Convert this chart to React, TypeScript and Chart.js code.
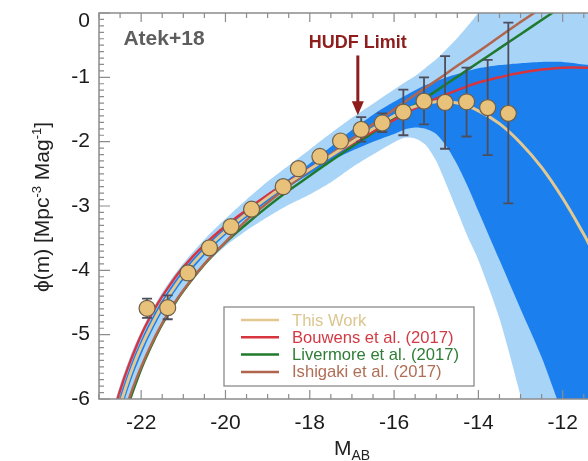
import React, { useEffect, useRef } from "react";
import { Chart, registerables } from "chart.js";
Chart.register(...registerables);

const FONT = "'Liberation Sans', Arial, Helvetica, sans-serif";

// ---- axes ----
const xTicks = [-22, -20, -18, -16, -14, -12];
const yTicks = [0, -1, -2, -3, -4, -5, -6];

// ---- data points (This Work) ----
const ptX = [-21.86, -21.37, -20.89, -20.38, -19.87, -19.38, -18.63, -18.27, -17.76, -17.27, -16.78, -16.28, -15.78, -15.29, -14.79, -14.28, -13.78, -13.29];
const ptY = [-4.59, -4.58, -4.04, -3.65, -3.32, -3.05, -2.70, -2.42, -2.23, -1.99, -1.81, -1.71, -1.54, -1.37, -1.39, -1.38, -1.47, -1.56];
const errHi = [-4.44, -4.39, -3.94, -3.58, -3.26, -2.99, -2.64, -2.36, -2.17, -1.92, -1.62, -1.56, -1.19, -1.00, -0.67, -0.85, -0.73, -0.15];
const errLo = [-4.74, -4.76, -4.14, -3.72, -3.38, -3.11, -2.76, -2.48, -2.29, -2.06, -2.00, -1.85, -1.90, -1.73, -2.11, -1.92, -2.21, -2.96];

// ---- model curves ----
const tanX = [-22.8, -22.6, -22.4, -22.2, -22.0, -21.75, -21.5, -21.25, -21.0, -20.5, -20.0, -19.5, -19.0, -18.5, -18.0, -17.5, -17.0, -16.5, -16.0, -15.5, -15.0, -14.5, -14.0, -13.5, -13.0, -12.5, -12.0, -11.5, -11.3];
const tanY = [-6.82, -6.32, -5.89, -5.51, -5.19, -4.85, -4.55, -4.30, -4.07, -3.70, -3.39, -3.12, -2.87, -2.64, -2.43, -2.22, -2.01, -1.80, -1.60, -1.45, -1.38, -1.40, -1.52, -1.72, -2.02, -2.40, -2.88, -3.44, -3.69];

const redX = [-22.7, -22.5, -22.3, -22.1, -21.9, -21.6, -21.3, -21.0, -20.5, -20.0, -19.5, -19.0, -18.5, -18.0, -17.5, -17.0, -16.5, -16.0, -15.5, -15.0, -14.5, -14.0, -13.5, -13.0, -12.5, -12.0, -11.5, -11.3];
const redY = [-6.32, -5.87, -5.49, -5.16, -4.87, -4.51, -4.21, -3.95, -3.60, -3.31, -3.06, -2.83, -2.62, -2.42, -2.22, -2.03, -1.84, -1.66, -1.48, -1.33, -1.20, -1.08, -1.00, -0.93, -0.88, -0.85, -0.85, -0.85];

const greenX = [-22.5, -22.3, -22.1, -21.9, -21.6, -21.3, -21.0, -20.5, -20.0, -19.5, -19.0, -18.5, -18.0, -17.5, -17.0, -16.5, -16.0, -15.5, -15.0, -14.5, -14.0, -13.5, -13.0, -12.5, -12.0, -11.5];
const greenY = [-6.51, -6.08, -5.71, -5.38, -4.96, -4.62, -4.32, -3.91, -3.57, -3.28, -3.01, -2.76, -2.53, -2.30, -2.08, -1.86, -1.64, -1.43, -1.21, -0.99, -0.77, -0.55, -0.33, -0.11, 0.11, 0.33];

const brownX = [-22.5, -22.3, -22.1, -21.9, -21.6, -21.3, -21.0, -20.5, -20.0, -19.5, -19.0, -18.5, -18.0, -17.5, -17.0, -16.5, -16.0, -15.5, -15.0, -14.5, -14.0, -13.5, -13.0, -12.5, -12.0];
const brownY = [-6.43, -6.02, -5.66, -5.35, -4.94, -4.60, -4.31, -3.90, -3.56, -3.22, -2.95, -2.69, -2.44, -2.20, -1.96, -1.73, -1.50, -1.27, -1.05, -0.82, -0.60, -0.37, -0.14, 0.08, 0.31];

// ---- confidence bands ----
const bandX = [-22.8, -22.5, -22.2, -21.9, -21.6, -21.3, -21.0, -20.5, -20.0, -19.5, -19.0, -18.5, -18.0, -17.5, -17.0, -16.5, -16.0, -15.75, -15.5, -15.25, -15.0, -14.75, -14.5, -14.25, -14.0, -13.5, -13.0, -12.5, -12.0, -11.5, -11.3];
const lightUpper = [-6.45, -5.78, -5.24, -4.81, -4.45, -4.15, -3.89, -3.52, -3.20, -2.90, -2.62, -2.37, -2.12, -1.87, -1.63, -1.41, -1.19, -1.08, -0.98, -0.85, -0.72, -0.56, -0.39, -0.20, 0.00, 0.35, 0.70, 1.00, 1.30, 1.60, 1.70];
const lightLower = [-7.20, -6.42, -5.80, -5.31, -4.90, -4.56, -4.30, -3.92, -3.62, -3.38, -3.17, -2.98, -2.82, -2.63, -2.40, -2.20, -2.01, -1.94, -1.95, -2.05, -2.30, -2.68, -3.08, -3.48, -3.84, -4.75, -5.95, -7.30, -8.60, -10.0, -10.5];
const darkUpper = [-6.62, -5.95, -5.39, -4.94, -4.57, -4.26, -3.99, -3.63, -3.33, -3.06, -2.81, -2.58, -2.34, -2.08, -1.82, -1.58, -1.38, -1.29, -1.20, -1.12, -1.06, -1.00, -0.95, -0.90, -0.86, -0.81, -0.78, -0.76, -0.76, -0.80, -0.83];
const darkLower = [-7.00, -6.24, -5.64, -5.16, -4.76, -4.43, -4.15, -3.77, -3.45, -3.18, -2.93, -2.71, -2.50, -2.30, -2.14, -2.00, -1.88, -1.81, -1.78, -1.80, -1.88, -2.08, -2.36, -2.70, -3.08, -3.84, -4.60, -5.35, -6.25, -7.20, -7.60];

// ---- legend ----
const legendLabels = ["This Work", "Bouwens et al. (2017)", "Livermore et al. (2017)", "Ishigaki et al. (2017)"];
const lineColors = ["#e3c890", "#d8343e", "#1f7a2c", "#b0654c"];
const legendTextColors = ["#dcc58f", "#d23a44", "#2f7d36", "#b06e56"];

// ---- annotation ----
const hudfX = -16.86;
const hudfArrowTop = -0.66;
const hudfArrowTip = -1.59;
const hudfTextY = -0.46;

export default function App() {
  const ref = useRef<HTMLCanvasElement>(null);

  useEffect(() => {
    const canvas = ref.current!;
    const xy = (xs: number[], ys: number[]) => xs.map((x, i) => ({ x, y: ys[i] }));
    const shape = (xs: number[], up: number[], lo: number[]) => [
      ...xs.map((x, i) => ({ x, y: up[i] })),
      ...xs.map((x, i) => ({ x, y: lo[i] })).reverse(),
    ];

    const decor = {
      id: "decor",
      beforeDatasetDraw(chart: any, args: any) {
        if (args.index !== 0) return;
        const { ctx, scales } = chart;
        const x = scales.x, y = scales.y;
        ctx.save();
        ctx.strokeStyle = "#4d4d5c";
        ctx.lineWidth = 1.8;
        ptX.forEach((v, i) => {
          const px = x.getPixelForValue(v);
          const t = y.getPixelForValue(errHi[i]);
          const b = y.getPixelForValue(errLo[i]);
          ctx.beginPath();
          ctx.moveTo(px, t); ctx.lineTo(px, b);
          ctx.moveTo(px - 5, t); ctx.lineTo(px + 5, t);
          ctx.moveTo(px - 5, b); ctx.lineTo(px + 5, b);
          ctx.stroke();
        });
        ctx.restore();
      },
      afterDatasetsDraw(chart: any) {
        const { ctx, chartArea: a, scales } = chart;
        const x = scales.x, y = scales.y;
        ctx.save();
        // frame
        ctx.strokeStyle = "#8c8c8c";
        ctx.lineWidth = 1.5;
        ctx.beginPath();
        ctx.moveTo(a.right + 2, a.top);
        ctx.lineTo(a.left, a.top);
        ctx.lineTo(a.left, a.bottom);
        ctx.lineTo(a.right + 2, a.bottom);
        ctx.stroke();
        // x ticks
        ctx.lineWidth = 1.2;
        ctx.beginPath();
        for (let k = 0; k <= 24; k++) {
          const v = -23 + k * 0.5;
          const px = x.getPixelForValue(v);
          const major = xTicks.includes(v);
          const len = major ? 9 : 5;
          ctx.moveTo(px, a.bottom); ctx.lineTo(px, a.bottom - len);
          ctx.moveTo(px, a.top); ctx.lineTo(px, a.top + len);
        }
        // y ticks
        for (let k = 0; k <= 60; k++) {
          const v = -k / 10;
          const py = y.getPixelForValue(v);
          const len = k % 10 === 0 ? 11 : 5;
          ctx.moveTo(a.left, py); ctx.lineTo(a.left + len, py);
        }
        ctx.stroke();

        // y tick labels (top one nudged down as in the original)
        ctx.fillStyle = "#1a1a1a";
        ctx.font = `21px ${FONT}`;
        ctx.textAlign = "right";
        ctx.textBaseline = "middle";
        yTicks.forEach((v) => {
          const py = y.getPixelForValue(v) + (v === 0 ? 8 : 0);
          ctx.fillText(String(v), a.left - 9, py);
        });

        // Atek+18
        ctx.fillStyle = "#5e5e5e";
        ctx.font = `bold 21px ${FONT}`;
        ctx.textAlign = "left";
        ctx.textBaseline = "middle";
        ctx.fillText("Atek+18", x.getPixelForValue(-22.42), y.getPixelForValue(-0.41));

        // HUDF limit
        const hx = x.getPixelForValue(hudfX);
        ctx.fillStyle = "#8e1e1e";
        ctx.font = `bold 18px ${FONT}`;
        ctx.textAlign = "center";
        ctx.fillText("HUDF Limit", hx, y.getPixelForValue(hudfTextY));
        const tipY = y.getPixelForValue(hudfArrowTip);
        ctx.strokeStyle = "#8e1e1e";
        ctx.lineWidth = 3;
        ctx.beginPath();
        ctx.moveTo(hx, y.getPixelForValue(hudfArrowTop));
        ctx.lineTo(hx, tipY - 10);
        ctx.stroke();
        ctx.beginPath();
        ctx.moveTo(hx - 6, tipY - 14);
        ctx.lineTo(hx + 6, tipY - 14);
        ctx.lineTo(hx, tipY);
        ctx.closePath();
        ctx.fill();

        // legend box
        const bx = 224, by = 307, bw = 250, bh = 79;
        ctx.fillStyle = "#ffffff";
        ctx.fillRect(bx, by, bw, bh);
        ctx.strokeStyle = "#8a8a8a";
        ctx.lineWidth = 1.3;
        ctx.strokeRect(bx, by, bw, bh);
        ctx.font = `16.6px ${FONT}`;
        ctx.textAlign = "left";
        ctx.textBaseline = "middle";
        legendLabels.forEach((lab, i) => {
          const ly = 320 + i * 17.3;
          ctx.strokeStyle = lineColors[i];
          ctx.lineWidth = 2.5;
          ctx.beginPath();
          ctx.moveTo(241, ly); ctx.lineTo(279, ly);
          ctx.stroke();
          ctx.fillStyle = legendTextColors[i];
          ctx.fillText(lab, 292, ly + 1);
        });

        // x title  M_AB
        ctx.fillStyle = "#222";
        ctx.textBaseline = "alphabetic";
        ctx.font = `21px ${FONT}`;
        const wM = ctx.measureText("M").width;
        ctx.font = `14px ${FONT}`;
        const wAB = ctx.measureText("AB").width;
        const sx = 352 - (wM + wAB) / 2;
        ctx.font = `21px ${FONT}`;
        ctx.fillText("M", sx, 455);
        ctx.font = `14px ${FONT}`;
        ctx.fillText("AB", sx + wM, 460);

        // y title
        const parts: [string, number, number][] = [
          ["\u03D5(m) [Mpc", 21, 0],
          ["-3", 13, -8],
          [" Mag", 21, 0],
          ["-1", 13, -8],
          ["]", 21, 0],
        ];
        let total = 0;
        const widths = parts.map(([t, s]) => {
          ctx.font = `${s}px ${FONT}`;
          const w = ctx.measureText(t).width;
          total += w;
          return w;
        });
        ctx.save();
        ctx.translate(49, 207);
        ctx.rotate(-Math.PI / 2);
        let cx = -total / 2;
        parts.forEach(([t, s, dy], i) => {
          ctx.font = `${s}px ${FONT}`;
          ctx.fillText(t, cx, dy);
          cx += widths[i];
        });
        ctx.restore();
        ctx.restore();
      },
    };

    const lineDs = (data: any, color: string, width: number, order: number) => ({
      data,
      borderColor: color,
      borderWidth: width,
      pointRadius: 0,
      tension: 0.4,
      fill: false,
      order,
    });

    const bandDs = (data: any, color: string, order: number) => ({
      data,
      borderWidth: 0,
      borderColor: "rgba(0,0,0,0)",
      backgroundColor: color,
      fill: "shape",
      pointRadius: 0,
      tension: 0.25,
      order,
    });

    const chart = new Chart(canvas, {
      type: "line",
      data: {
        datasets: [
          {
            data: xy(ptX, ptY),
            showLine: false,
            pointRadius: 8,
            pointBackgroundColor: "#e8c27a",
            pointBorderColor: "#6e5e48",
            pointBorderWidth: 1.2,
            order: 0,
          } as any,
          lineDs(xy(tanX, tanY), lineColors[0], 3, 1),
          lineDs(xy(redX, redY), lineColors[1], 2.5, 2),
          lineDs(xy(brownX, brownY), lineColors[3], 2.5, 3),
          lineDs(xy(greenX, greenY), lineColors[2], 2.5, 4),
          bandDs(shape(bandX, darkUpper, darkLower), "#1b80ee", 10) as any,
          bandDs(shape(bandX, lightUpper, lightLower), "#a8d4f8", 11) as any,
        ],
      },
      options: {
        animation: false,
        responsive: false,
        devicePixelRatio: 1,
        events: [],
        layout: { autoPadding: false, padding: { left: 0, top: 13, right: 0, bottom: 0 } },
        plugins: { legend: { display: false }, tooltip: { enabled: false } },
        scales: {
          x: {
            type: "linear",
            min: -23,
            max: -11.4,
            grid: { display: false, drawTicks: false },
            border: { display: false },
            afterBuildTicks: (s: any) => { s.ticks = xTicks.map((v) => ({ value: v })); },
            afterFit: (s: any) => { s.height = 62; s.paddingLeft = 0; s.paddingRight = 0; },
            ticks: { color: "#1a1a1a", font: { family: FONT, size: 21 }, padding: 12, maxRotation: 0, autoSkip: false },
          },
          y: {
            type: "linear",
            min: -6,
            max: 0,
            grid: { display: false, drawTicks: false },
            border: { display: false },
            afterBuildTicks: (s: any) => { s.ticks = yTicks.map((v) => ({ value: v })); },
            afterFit: (s: any) => { s.width = 99; s.paddingTop = 0; s.paddingBottom = 0; },
            ticks: { display: false },
          },
        },
      } as any,
      plugins: [decor],
    });
    return () => chart.destroy();
  }, []);

  return (
    <div style={{ position: "absolute", left: 0, top: 0, width: 588, height: 461, background: "#fff" }}>
      <canvas ref={ref} width={588} height={461} style={{ display: "block" }} />
    </div>
  );
}
